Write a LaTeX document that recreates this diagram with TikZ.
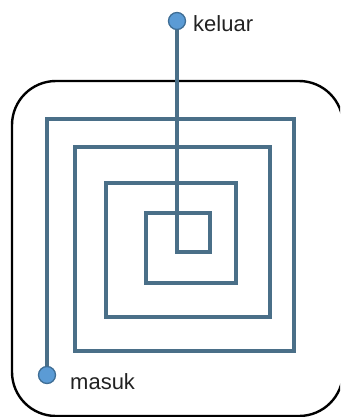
\documentclass[tikz,border=0pt]{standalone}
\usepackage{fontspec}
\setmainfont{Liberation Sans}
\definecolor{spiralc}{HTML}{4A6F88}
\definecolor{dotfill}{HTML}{5B9BD5}
\definecolor{dotline}{HTML}{3F6E95}
\definecolor{textc}{HTML}{222222}
\begin{document}
\begin{tikzpicture}[x=1pt,y=-1pt,
  spiral/.style={draw=spiralc,line width=3.8pt,line join=miter},
  frame/.style={draw=black,line width=2.4pt,rounded corners=44pt},
  enddot/.style={circle,fill=dotfill,draw=dotline,line width=1.3pt,minimum size=17pt,inner sep=0pt},
  lbl/.style={font=\fontsize{22}{24}\selectfont,text=textc,inner sep=0pt}]
\useasboundingbox (0,0) rectangle (340,417);
\clip (0,0) rectangle (340,417);
\draw[frame] (12,81) rectangle (343,416);
\coordinate (c1) at (47,119);
\coordinate (c2) at (294,119);
\coordinate (c3) at (294,351);
\coordinate (c4) at (75,351);
\coordinate (c5) at (75,147);
\coordinate (c6) at (270,147);
\coordinate (c7) at (270,317);
\coordinate (c8) at (106,317);
\coordinate (c9) at (106,183);
\coordinate (c10) at (236,183);
\coordinate (c11) at (236,283);
\coordinate (c12) at (146,283);
\coordinate (c13) at (146,213);
\coordinate (c14) at (210,213);
\coordinate (c15) at (210,252);
\coordinate (c16) at (177,252);
\coordinate (ms) at (47,375);
\coordinate (kl) at (177,21);
\draw[spiral] (ms) -- (c1) -- (c2) -- (c3) -- (c4) -- (c5) -- (c6) -- (c7) -- (c8) -- (c9) -- (c10) -- (c11) -- (c12) -- (c13) -- (c14) -- (c15) -- (c16) -- (kl);
\node[enddot] (masukdot) at (ms) {};
\node[enddot] (keluardot) at (kl) {};
\node[lbl,anchor=base west] (masuk) at (70,389) {masuk};
\node[lbl,anchor=base west] (keluar) at (193,32) {keluar};
\end{tikzpicture}
\end{document}
